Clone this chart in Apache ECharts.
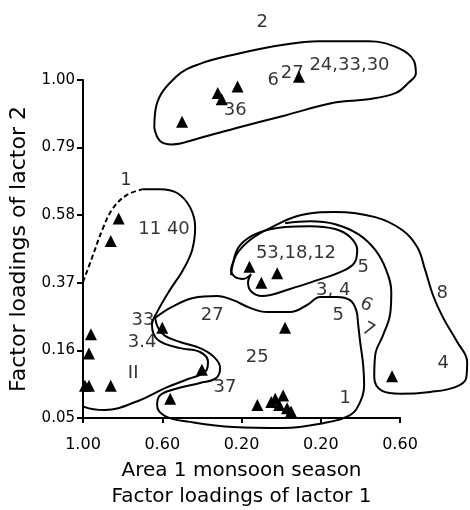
<!DOCTYPE html>
<html><head><meta charset="utf-8">
<script src="https://cdn.jsdelivr.net/npm/echarts/dist/echarts.min.js"></script>
<style>html,body{margin:0;padding:0;background:#fff}#c{width:470px;height:510px}</style>
</head><body><div id="c"></div>
<script>
// Axis tick labels (as printed in the figure)
const xTickLabels = ["1.00", "0.60", "0.20", "0.20", "0.60"];
const yTickLabels = ["0.05", "0.16", "0.37", "0.58", "0.79", "1.00"];

// Station points: factor loadings of factor 1 (x) and factor 2 (y)
const factor1 = [-0.50, -0.32, -0.30, -0.22, 0.09,
                 -0.82, -0.86,
                 -0.96, -0.97, -0.99, -0.97, -0.86,
                 -0.60, -0.40, -0.56, 0.02,
                 -0.12, -0.05, -0.03, 0.01, -0.01, 0.03, 0.05,
                 0.56,
                 -0.16, -0.02, -0.10];
const factor2 = [0.87, 0.96, 0.94, 0.98, 1.01,
                 0.57, 0.50,
                 0.21, 0.15, 0.05, 0.05, 0.05,
                 0.23, 0.10, 0.01, 0.23,
                 -0.01, 0.00, 0.01, 0.02, -0.01, -0.02, -0.03,
                 0.08,
                 0.42, 0.40, 0.37];

// Annotations (station numbers / group numbers)
const noteText = ["2", "24,33,30", "6", "27", "36", "1", "11 40", "53,18,12", "5", "3, 4", "6", "7", "5", "8", "4", "1", "25", "27", "33", "3.4", "37", "II"];
const noteX = [-0.096, 0.345, -0.040, 0.056, -0.232, -0.783, -0.591, 0.075, 0.414, 0.263, 0.429, 0.439, 0.288, 0.813, 0.818, 0.323, -0.121, -0.348, -0.697, -0.702, -0.283, -0.747];
const noteY = [1.180, 1.046, 1.000, 1.021, 0.907, 0.689, 0.537, 0.462, 0.419, 0.348, 0.301, 0.223, 0.270, 0.338, 0.121, 0.012, 0.139, 0.270, 0.254, 0.186, 0.046, 0.090];
const noteRotate = [0, 0, 0, 0, 0, 0, 0, 0, 0, 0, -25, -30, 0, 0, 0, 0, 0, 0, 0, 0, 0, 0];

// Hand-drawn group outlines, in data units
const outlineGroup2 = [[-0.64,0.85],[-0.63,0.92],[-0.53,1.01],[-0.41,1.05],[-0.23,1.08],[0.02,1.11],[0.19,1.12],[0.44,1.12],[0.59,1.10],[0.67,1.06],[0.68,1.02],[0.64,0.99],[0.58,0.96],[0.44,0.94],[0.27,0.93],[0.02,0.89],[-0.23,0.85],[-0.41,0.82],[-0.55,0.80],[-0.61,0.81],[-0.64,0.85]];
const outlineGroup1 = [[-0.697,0.661],[-0.611,0.661],[-0.525,0.649],[-0.460,0.605],[-0.434,0.543],[-0.449,0.472],[-0.495,0.410],[-0.561,0.348],[-0.626,0.279],[-0.652,0.239],[-0.621,0.192],[-0.510,0.167],[-0.409,0.155],[-0.369,0.124],[-0.384,0.093],[-0.470,0.071],[-0.586,0.043],[-0.722,0.003],[-0.889,-0.025],[-0.990,-0.016],[-1.056,0.021],[-1.076,0.084],[-1.066,0.177],[-1.035,0.270],[-1.000,0.372]];
const outlineGroup1Dashed = [[-1.000,0.372],[-0.955,0.447],[-0.899,0.540],[-0.848,0.602],[-0.778,0.643],[-0.697,0.661]];
const outlineGroup25 = [[-0.636,0.261],[-0.551,0.295],[-0.444,0.323],[-0.323,0.329],[-0.242,0.316],[-0.157,0.292],[-0.071,0.279],[0.045,0.279],[0.131,0.301],[0.197,0.326],[0.283,0.326],[0.348,0.316],[0.379,0.285],[0.389,0.239],[0.399,0.186],[0.414,0.115],[0.419,0.052],[0.399,0.000],[0.348,-0.041],[0.212,-0.066],[0.010,-0.081],[-0.242,-0.078],[-0.460,-0.062],[-0.586,-0.044],[-0.626,-0.010],[-0.611,0.021],[-0.535,0.040],[-0.409,0.059],[-0.328,0.074],[-0.308,0.105],[-0.338,0.139],[-0.409,0.167],[-0.510,0.186],[-0.586,0.205],[-0.621,0.230],[-0.636,0.261]];
const outlineGroup5 = [[-0.242,0.434],[-0.207,0.487],[-0.116,0.525],[0.020,0.543],[0.146,0.546],[0.273,0.537],[0.348,0.512],[0.384,0.472],[0.369,0.431],[0.298,0.403],[0.187,0.379],[0.045,0.351],[-0.096,0.329],[-0.152,0.344],[-0.167,0.372],[-0.152,0.397],[-0.192,0.382],[-0.232,0.388],[-0.253,0.410],[-0.242,0.434]];
const outlineGroup8 = [[-0.253,0.394],[-0.227,0.456],[-0.157,0.503],[-0.056,0.540],[0.096,0.580],[0.273,0.590],[0.475,0.574],[0.611,0.534],[0.687,0.481],[0.727,0.410],[0.768,0.329],[0.818,0.261],[0.889,0.186],[0.939,0.124],[0.934,0.074],[0.879,0.046],[0.753,0.031],[0.601,0.025],[0.510,0.034],[0.470,0.077],[0.475,0.146],[0.515,0.208],[0.551,0.276],[0.556,0.341],[0.530,0.410],[0.475,0.472],[0.389,0.521],[0.273,0.552],[0.146,0.561],[0.020,0.555]];

const X_MIN = -1.0, X_MAX = 0.6, X_STEP = 0.4;
const Y_MIN = -0.05, Y_MAX = 1.00, Y_STEP = 0.21;
const X_MAX_WIDE = 1.0; // same scale, extended so outlines beyond 0.60 are drawn
const FONT = 'DejaVu Sans';
const GRID_L = 83, GRID_T = 80, GRID_B = 92, GRID_R = 70;
const PX_PER_X = (470 - GRID_L - GRID_R) / (X_MAX - X_MIN);
const GRID_R_WIDE = 470 - GRID_L - PX_PER_X * (X_MAX_WIDE - X_MIN);

function outlineSeries(data, dashed) {
  return {
    type: 'line', xAxisIndex: 1, yAxisIndex: 1, data: data, smooth: 0.4, symbol: 'none',
    clip: false, silent: true,
    lineStyle: { color: '#000', width: 2, type: dashed ? [5, 3] : 'solid' }, z: 2
  };
}

const chart = echarts.init(document.getElementById('c'), null, { renderer: 'canvas' });
chart.setOption({
  backgroundColor: '#fff',
  animation: false,
  grid: [
    { left: GRID_L, right: GRID_R, top: GRID_T, bottom: GRID_B, containLabel: false, outerBoundsMode: 'none' },
    { left: GRID_L, right: GRID_R_WIDE, top: GRID_T, bottom: GRID_B, containLabel: false, outerBoundsMode: 'none' }
  ],
  xAxis: [{
    type: 'value', gridIndex: 0, min: X_MIN, max: X_MAX, interval: X_STEP,
    axisLine: { show: true, onZero: false, lineStyle: { color: '#000', width: 2 } },
    axisTick: { show: true, inside: false, length: 5, lineStyle: { color: '#000', width: 2 } },
    splitLine: { show: false },
    axisLabel: {
      color: '#000', fontSize: 16, fontFamily: FONT, margin: 19,
      formatter: v => xTickLabels[Math.round((v - X_MIN) / X_STEP)] || ''
    },
    name: 'Area 1 monsoon season\nFactor loadings of lactor 1',
    nameLocation: 'middle', nameGap: 38,
    nameTextStyle: { color: '#000', fontSize: 20, fontFamily: FONT, lineHeight: 26 }
  }, {
    type: 'value', gridIndex: 1, min: X_MIN, max: X_MAX_WIDE, show: false
  }],
  yAxis: [{
    type: 'value', gridIndex: 0, min: Y_MIN, max: Y_MAX, interval: Y_STEP,
    axisLine: { show: true, onZero: false, lineStyle: { color: '#000', width: 2 } },
    axisTick: { show: true, inside: false, length: 6, lineStyle: { color: '#000', width: 2 } },
    splitLine: { show: false },
    axisLabel: {
      color: '#000', fontSize: 15, fontFamily: FONT, margin: 8,
      formatter: v => yTickLabels[Math.round((v - Y_MIN) / Y_STEP)] || ''
    },
    name: 'Factor loadings of lactor 2',
    nameLocation: 'middle', nameGap: 53,
    nameTextStyle: { color: '#000', fontSize: 22, fontFamily: FONT }
  }, {
    type: 'value', gridIndex: 1, min: Y_MIN, max: Y_MAX, show: false
  }],
  series: [
    outlineSeries(outlineGroup2),
    outlineSeries(outlineGroup1),
    outlineSeries(outlineGroup1Dashed, true),
    outlineSeries(outlineGroup25),
    outlineSeries(outlineGroup5),
    outlineSeries(outlineGroup8),
    {
      type: 'scatter', xAxisIndex: 0, yAxisIndex: 0,
      symbol: 'triangle', symbolSize: 12, clip: false, silent: true,
      itemStyle: { color: '#000', opacity: 1 }, z: 3,
      data: factor1.map((x, i) => [x, factor2[i]])
    },
    {
      type: 'scatter', xAxisIndex: 1, yAxisIndex: 1,
      symbolSize: 1, clip: false, silent: true, z: 4,
      itemStyle: { color: 'rgba(0,0,0,0)' },
      label: { show: true, position: 'inside', color: '#000', fontSize: 18, fontFamily: FONT },
      labelLayout: { hideOverlap: false },
      data: noteText.map((t, i) => ({
        value: [noteX[i], noteY[i]],
        label: { formatter: t, rotate: noteRotate[i] }
      }))
    }
  ]
});
</script>
</body></html>
